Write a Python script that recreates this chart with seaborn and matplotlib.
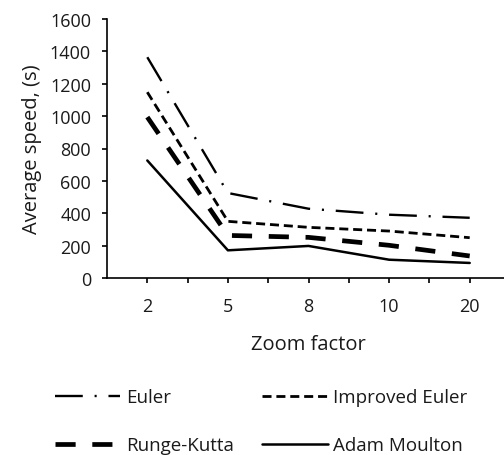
import numpy as np
import pandas as pd
import matplotlib.pyplot as plt
from matplotlib.ticker import FixedLocator
import seaborn as sns

# data
zoom_factor = ["2", "5", "8", "10", "20"]
euler = [1364, 525, 428, 391, 372]
improved_euler = [1148, 350, 313, 290, 249]
runge_kutta = [994, 263, 251, 202, 136]
adam_moulton = [726, 171, 198, 113, 93]

sns.set_theme(style="ticks")
plt.rcParams["font.family"] = ["Open Sans", "DejaVu Sans"]
plt.rcParams["lines.scale_dashes"] = False

fig = plt.figure(figsize=(5.04, 4.56), dpi=100)
ax = fig.add_axes([107 / 504, 1 - 279 / 456, 403 / 504, 259 / 456])

pos = np.arange(len(zoom_factor))
series = [
    ("Euler", euler, 1.7, (0, (20, 8.5, 1.5, 8.5))),
    ("Improved Euler", improved_euler, 2.0, (0, (6.5, 3.5))),
    ("Runge-Kutta", runge_kutta, 3.4, (0, (14.5, 12))),
    ("Adam Moulton", adam_moulton, 1.8, "-"),
]
handles = {}
for name, vals, lw, ls in series:
    df = pd.DataFrame({"x": pos, "y": vals})
    sns.lineplot(data=df, x="x", y="y", ax=ax, color="black",
                 linewidth=lw, linestyle=ls, label=name)
    handles[name] = ax.get_lines()[-1]
ax.get_legend().remove()

ax.set_xlim(-0.5, 4.5)
ax.set_ylim(0, 1600)
ax.set_yticks(range(0, 1601, 200))
ax.set_xticks(pos)
ax.set_xticklabels(zoom_factor)
ax.xaxis.set_minor_locator(FixedLocator(pos[:-1] + 0.5))

for side in ["top", "right"]:
    ax.spines[side].set_visible(False)
for side in ["left", "bottom"]:
    ax.spines[side].set_color("black")
    ax.spines[side].set_linewidth(1.2)

fs = 13
ax.tick_params(axis="both", which="both", color="black", width=1.2, length=3.5,
               labelsize=fs, labelcolor="#1a1a1a")
ax.tick_params(axis="x", which="major", pad=10)
ax.tick_params(axis="y", pad=8)
ax.set_xlabel("Zoom factor", fontsize=14.5, labelpad=14, color="#1a1a1a")
ax.set_ylabel("Average speed, (s)", fontsize=14.5, labelpad=6, color="#1a1a1a")

order = ["Euler", "Runge-Kutta", "Improved Euler", "Adam Moulton"]
fig.legend([handles[n] for n in order], order, ncol=2, frameon=False,
           loc="lower left", bbox_to_anchor=(0.075, -0.035), fontsize=13.5,
           handlelength=3.5, handletextpad=0.3, columnspacing=1.5,
           labelspacing=1.6, labelcolor="#1a1a1a")

fig.savefig("out.png", dpi=100)
